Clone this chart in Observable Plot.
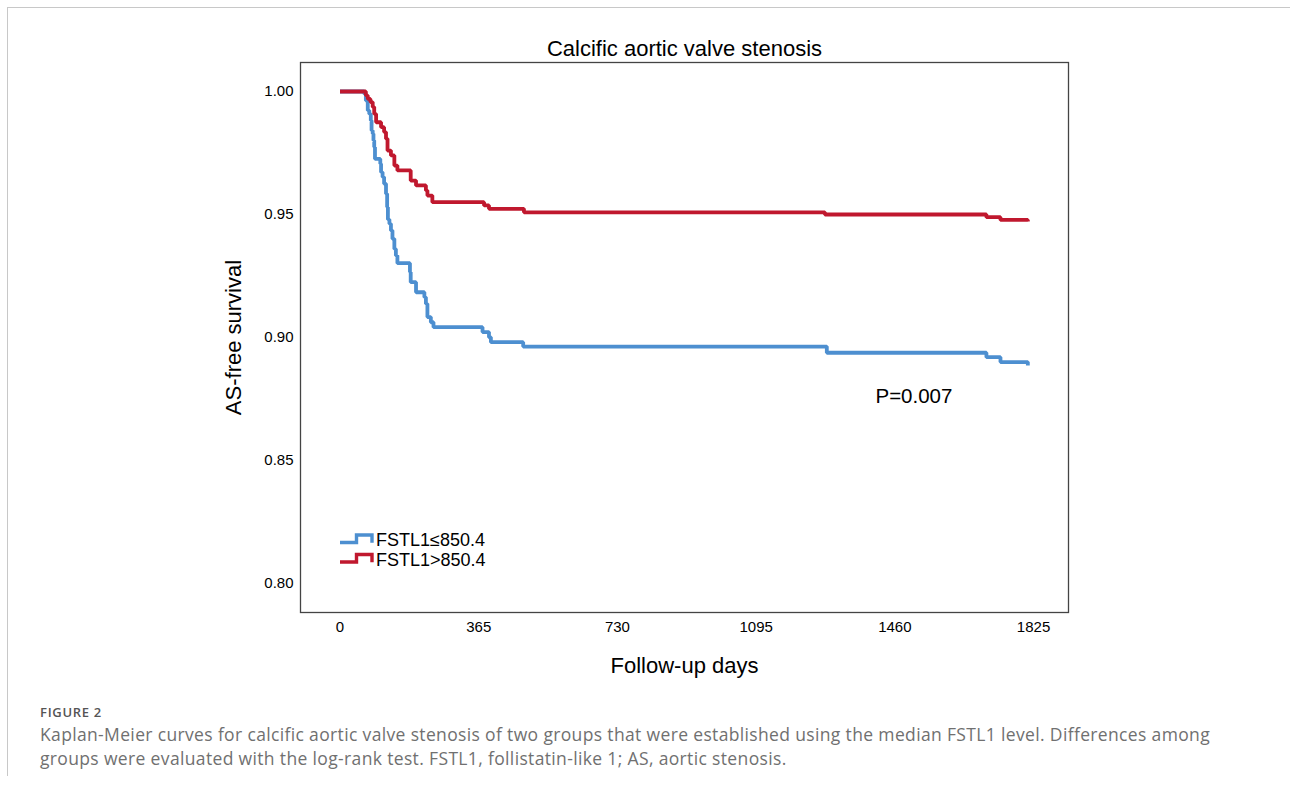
<!DOCTYPE html>
<html>
<head>
<meta charset="utf-8">
<script src="https://cdn.jsdelivr.net/npm/d3@7"></script>
<script src="https://cdn.jsdelivr.net/npm/@observablehq/plot@0.6"></script>
<style>
  html, body { margin: 0; padding: 0; background: #fff; }
  body { width: 1290px; height: 791px; position: relative; overflow: hidden; }
  #card { position: absolute; left: 7px; top: 7px; width: 1300px; height: 768px;
          border-top: 1px solid #c8c8c8; border-left: 1px solid #c8c8c8; }
  #chart { position: absolute; left: 0; top: 0; }
  #figlabel { position: absolute; left: 40px; top: 703px; font-family: "Open Sans", sans-serif;
              font-size: 13px; font-weight: 600; color: #555; letter-spacing: 0.7px; }
  #caption { position: absolute; left: 40px; top: 722px; font-family: "Open Sans", sans-serif;
             font-size: 17.5px; letter-spacing: 0.35px; line-height: 24px; color: #707070; white-space: nowrap; }
</style>
</head>
<body>
<div id="card"></div>
<div id="chart"></div>
<div id="figlabel">FIGURE 2</div>
<div id="caption">Kaplan-Meier curves for calcific aortic valve stenosis of two groups that were established using the median FSTL1 level. Differences among<br>groups were evaluated with the log-rank test. FSTL1, follistatin-like 1; AS, aortic stenosis.</div>
<script>
// ---- data ----
const groups = ["FSTL1≤850.4", "FSTL1>850.4"];
const groupColors = ["#4d8fd0", "#c0182e"];

const lowDays = [0, 64, 68, 73, 77, 81, 83, 86, 88, 90, 92, 106, 108, 112, 116, 121, 124, 126, 130, 134, 138, 143, 147, 151, 184, 186, 200, 222, 226, 230, 239, 246, 375, 392, 397, 482, 1281, 1701, 1738, 1810, 1810];
const lowSurv = [1.0, 0.999, 0.9963, 0.9923, 0.9909, 0.9882, 0.9841, 0.9828, 0.9801, 0.9774, 0.9726, 0.9706, 0.9672, 0.9652, 0.9625, 0.9584, 0.953, 0.948, 0.9462, 0.9435, 0.9401, 0.936, 0.9333, 0.9302, 0.9266, 0.9225, 0.9184, 0.9164, 0.9137, 0.9083, 0.9062, 0.9042, 0.9022, 0.9001, 0.8981, 0.8963, 0.8938, 0.892, 0.89, 0.89, 0.8886];

const highDays = [0, 68, 73, 80, 86, 90, 95, 108, 116, 121, 125, 134, 143, 151, 186, 200, 226, 230, 243, 379, 392, 484, 1276, 1701, 1738, 1810, 1810];
const highSurv = [1.0, 0.9984, 0.997, 0.9957, 0.9937, 0.9909, 0.9875, 0.9855, 0.9835, 0.9808, 0.976, 0.974, 0.9699, 0.9679, 0.9638, 0.9618, 0.9598, 0.9577, 0.955, 0.9537, 0.9523, 0.9509, 0.95, 0.9489, 0.9478, 0.9478, 0.9472];

const xTicks = [0, 365, 730, 1095, 1460, 1825];
const yTicks = [0.80, 0.85, 0.90, 0.95, 1.00];
const titleText = "Calcific aortic valve stenosis";
const xLabel = "Follow-up days";
const yLabel = "AS-free survival";
const pText = "P=0.007";

// ---- build tables ----
const lowData = lowDays.map((t, i) => ({t, s: lowSurv[i]}));
const highData = highDays.map((t, i) => ({t, s: highSurv[i]}));

const font = "'Liberation Sans', Arial, sans-serif";

const chart = Plot.plot({
  width: 1290,
  height: 690,
  marginLeft: 300,
  marginRight: 222,
  marginTop: 62,
  marginBottom: 78,
  style: {fontFamily: font, fontSize: "15px", color: "#000", background: "transparent"},
  x: {domain: [-104, 1917], label: null, axis: null},
  y: {domain: [0.78821, 1.01179], label: null, axis: null},
  marks: [
    Plot.frame({stroke: "#444", strokeWidth: 1.3}),
    Plot.axisX({ticks: xTicks, tickSize: 0, tickPadding: 9, fontSize: 15, label: null, tickFormat: d => String(d)}),
    Plot.axisY({ticks: yTicks, tickSize: 0, tickPadding: 7, fontSize: 15, label: null, tickFormat: d => d.toFixed(2)}),
    Plot.line(lowData, {x: "t", y: "s", curve: "step-after", stroke: groupColors[0], strokeWidth: 3.8, strokeLinejoin: "miter", strokeLinecap: "butt"}),
    Plot.line(highData, {x: "t", y: "s", curve: "step-after", stroke: groupColors[1], strokeWidth: 3.8, strokeLinejoin: "miter", strokeLinecap: "butt"}),
    Plot.text([pText], {x: 1409, y: 0.876, text: d => d, textAnchor: "start", lineAnchor: "middle", fontSize: 20.5, fill: "#000"}),
    Plot.text([titleText], {frameAnchor: "top", dy: -14, lineAnchor: "middle", text: d => d, fontSize: 22, fill: "#000"}),
    Plot.text([xLabel], {frameAnchor: "bottom", dy: 53, lineAnchor: "middle", text: d => d, fontSize: 22, fill: "#000"}),
    Plot.text([yLabel], {frameAnchor: "left", dx: -67, rotate: -90, textAnchor: "middle", lineAnchor: "middle", text: d => d, fontSize: 22, fill: "#000"})
  ]
});
document.getElementById("chart").appendChild(chart);

// ---- legend (step-shaped symbols inside the frame, bottom-left) ----
const svg = d3.select(chart);
const lg = svg.append("g").attr("transform", "translate(340,535)");
groups.forEach((g, i) => {
  const y0 = i * 19.5;
  lg.append("path")
    .attr("d", `M0,${y0 + 7.5}H16.5V${y0}H32V${y0 + 7.8}`)
    .attr("fill", "none")
    .attr("stroke", groupColors[i])
    .attr("stroke-width", 3.4)
    .attr("stroke-linejoin", "miter");
  lg.append("text")
    .attr("x", 36)
    .attr("y", y0 + 5)
    .attr("dy", "0.35em")
    .attr("text-anchor", "start")
    .attr("font-family", font)
    .attr("font-size", 18)
    .attr("fill", "#000")
    .text(g);
});
</script>
</body>
</html>
